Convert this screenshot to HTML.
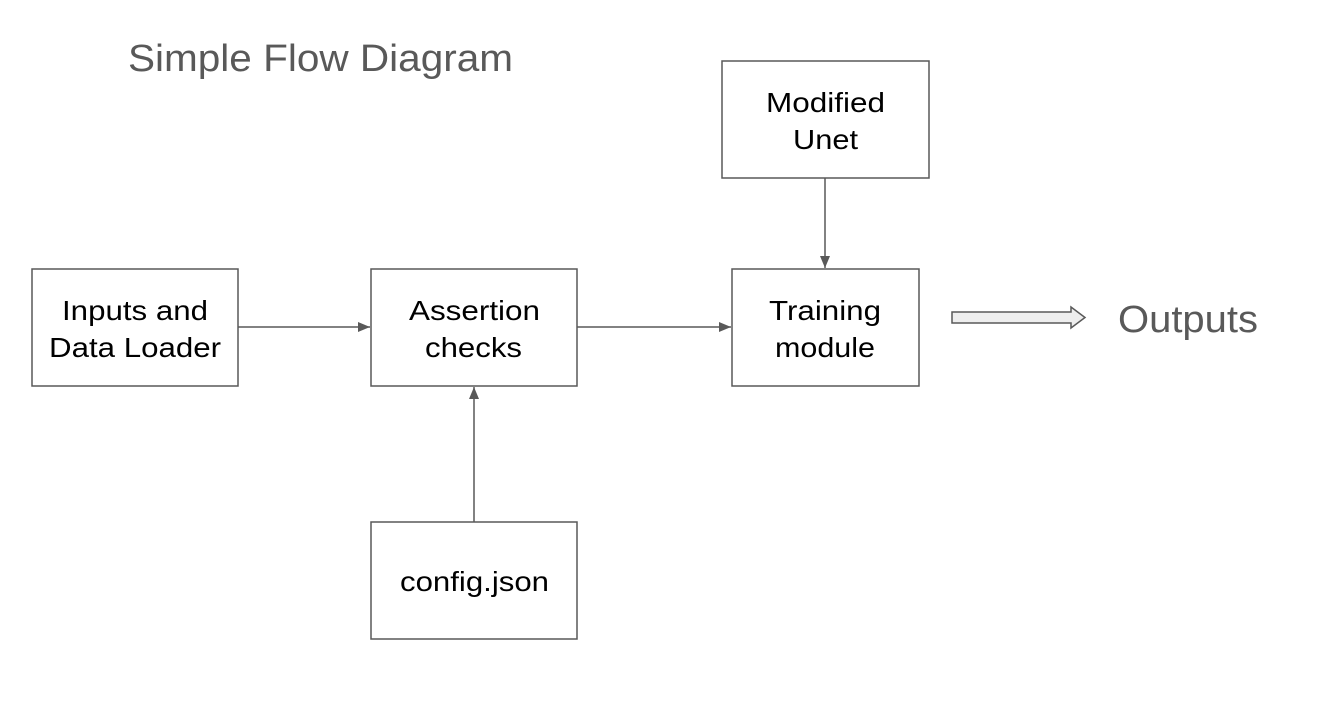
<!DOCTYPE html>
<html><head><meta charset="utf-8"><style>
html,body{margin:0;padding:0;background:#fff;}
svg{display:block;}
text{font-family:"Liberation Sans",Arial,sans-serif;}
</style></head><body>
<svg width="1344" height="710" viewBox="0 0 1344 710" xmlns="http://www.w3.org/2000/svg">
<defs>
<marker id="a" markerWidth="12" markerHeight="10" refX="12" refY="5" orient="auto" markerUnits="userSpaceOnUse">
<path d="M0,0 L12,5 L0,10 Z" fill="#595959"/>
</marker>
</defs>
<text x="128" y="71" font-size="38" fill="#595959" textLength="385" lengthAdjust="spacingAndGlyphs">Simple Flow Diagram</text>
<g fill="#fff" stroke="#595959" stroke-width="1.5">
<rect x="32" y="269" width="206" height="117"/>
<rect x="371" y="269" width="206" height="117"/>
<rect x="732" y="269" width="187" height="117"/>
<rect x="722" y="61" width="207" height="117"/>
<rect x="371" y="522" width="206" height="117"/>
</g>
<g stroke="#595959" stroke-width="1.5" fill="none">
<line x1="238" y1="327" x2="370" y2="327" marker-end="url(#a)"/>
<line x1="577" y1="327" x2="731" y2="327" marker-end="url(#a)"/>
<line x1="825" y1="178" x2="825" y2="268" marker-end="url(#a)"/>
<line x1="474" y1="522" x2="474" y2="387" marker-end="url(#a)"/>
</g>
<path d="M952,312 L1071,312 L1071,307 L1085,317.5 L1071,328 L1071,323 L952,323 Z" fill="#eeeeee" stroke="#595959" stroke-width="1.5"/>
<g font-size="28" fill="#000">
<text x="62" y="320" textLength="146" lengthAdjust="spacingAndGlyphs">Inputs and</text>
<text x="49" y="357" textLength="172" lengthAdjust="spacingAndGlyphs">Data Loader</text>
<text x="409" y="320" textLength="131" lengthAdjust="spacingAndGlyphs">Assertion</text>
<text x="425" y="357" textLength="97" lengthAdjust="spacingAndGlyphs">checks</text>
<text x="769" y="320" textLength="112" lengthAdjust="spacingAndGlyphs">Training</text>
<text x="775" y="357" textLength="100" lengthAdjust="spacingAndGlyphs">module</text>
<text x="766" y="112" textLength="119" lengthAdjust="spacingAndGlyphs">Modified</text>
<text x="793" y="149" textLength="65" lengthAdjust="spacingAndGlyphs">Unet</text>
<text x="400" y="591" textLength="149" lengthAdjust="spacingAndGlyphs">config.json</text>
</g>
<text x="1118" y="332" font-size="38" fill="#595959" textLength="140" lengthAdjust="spacingAndGlyphs">Outputs</text>
</svg>
</body></html>
